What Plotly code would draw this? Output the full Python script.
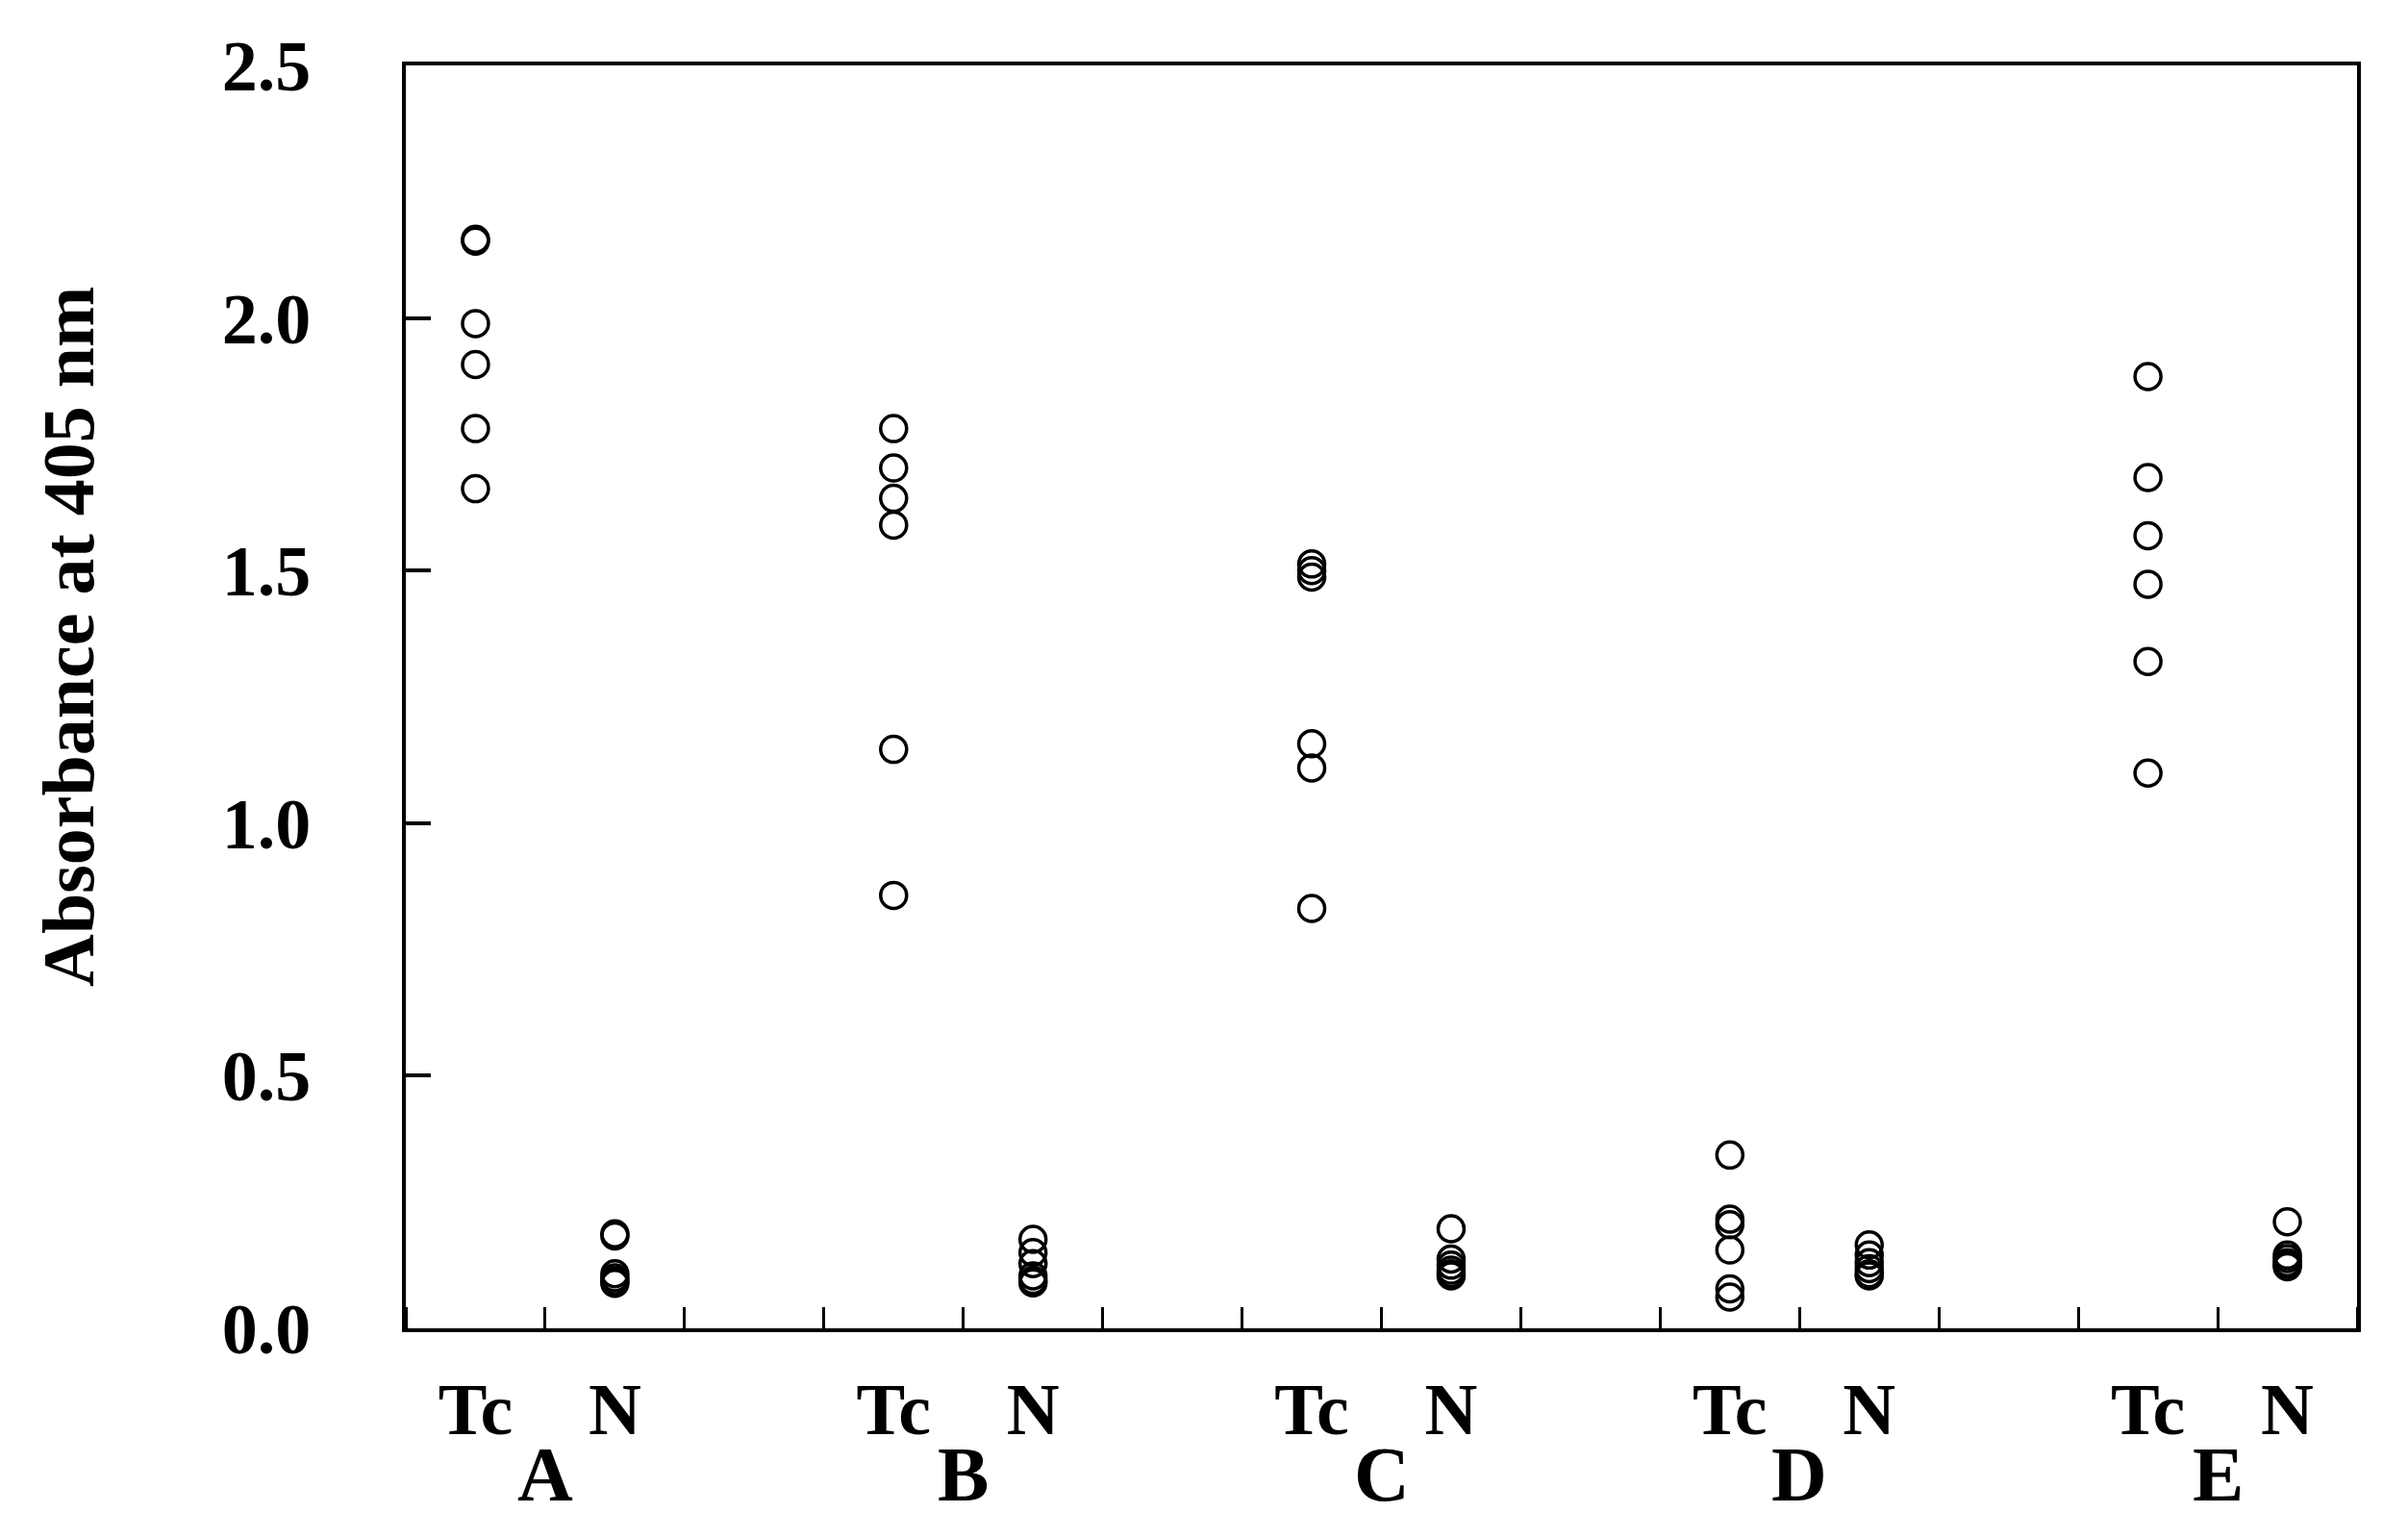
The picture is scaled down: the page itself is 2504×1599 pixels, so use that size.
import plotly.graph_objects as go

# ---- data ----
groups = ["A", "B", "C", "D", "E"]
pair_labels = ["Tc", "N"]

tc_A = [2.156, 2.152, 1.989, 1.908, 1.781, 1.662]
n_A = [0.187, 0.183, 0.108, 0.100, 0.094, 0.089]
tc_B = [1.781, 1.703, 1.643, 1.590, 1.146, 0.857]
n_B = [0.176, 0.150, 0.128, 0.104, 0.095, 0.090]
tc_C = [1.513, 1.500, 1.487, 1.157, 1.109, 0.831]
n_C = [0.197, 0.137, 0.125, 0.115, 0.108, 0.104]
tc_D = [0.343, 0.216, 0.205, 0.155, 0.078, 0.062]
n_D = [0.165, 0.145, 0.130, 0.118, 0.108, 0.104]
tc_E = [1.884, 1.684, 1.569, 1.473, 1.320, 1.099]
n_E = [0.211, 0.145, 0.138, 0.130, 0.125, 0.122]

tc_values = [tc_A, tc_B, tc_C, tc_D, tc_E]
n_values = [n_A, n_B, n_C, n_D, n_E]

y_ticks = [0.0, 0.5, 1.0, 1.5, 2.0, 2.5]
y_title = "Absorbance at 405 nm"

# ---- layout of the category slots: Tc, N, gap for each group ----
SLOTS_PER_GROUP = 3
n_slots = SLOTS_PER_GROUP * len(groups) - 1

FONT = "Liberation Serif, Times New Roman, serif"
BLACK = "#000000"

xs, ys = [], []
tickvals, ticktext = [], []
for gi, g in enumerate(groups):
    base = gi * SLOTS_PER_GROUP
    for k, (lab, vals) in enumerate(zip(pair_labels, [tc_values[gi], n_values[gi]])):
        pos = base + k + 0.5
        xs += [pos] * len(vals)
        ys += vals
        tickvals.append(pos)
        ticktext.append(lab)

fig = go.Figure()
fig.add_trace(go.Scatter(
    x=xs, y=ys, mode="markers",
    marker=dict(symbol="circle-open", size=27, color=BLACK,
                line=dict(width=3.5, color=BLACK)),
    showlegend=False, hoverinfo="y",
))

# group letters centred under each Tc/N pair
for gi, g in enumerate(groups):
    fig.add_annotation(
        x=gi * SLOTS_PER_GROUP + 1, y=0, xref="x", yref="paper",
        yshift=-106, yanchor="top", xanchor="center", showarrow=False,
        text=g, font=dict(family=FONT, size=80, color=BLACK, weight="bold"),
    )

# y-axis title
fig.add_annotation(
    x=-0.173, y=0.5476, xref="paper", yref="paper",
    xanchor="center", yanchor="middle", showarrow=False, textangle=-90,
    text=y_title, font=dict(family=FONT, size=76, color=BLACK, weight="bold"),
)

fig.update_layout(
    width=2504, height=1599,
    margin=dict(l=414, r=61, t=60, b=226),
    paper_bgcolor="white", plot_bgcolor="white",
    font=dict(family=FONT, color=BLACK),
    xaxis=dict(
        range=[0, n_slots], showgrid=False, zeroline=False,
        showline=True, linewidth=4, linecolor=BLACK, mirror=True,
        tickvals=tickvals, ticktext=ticktext, ticks="",
        ticklabelstandoff=15,
        tickfont=dict(family=FONT, size=76, color=BLACK, weight="bold"),
        minor=dict(dtick=1, tick0=0, ticks="inside", ticklen=22,
                   tickwidth=3, tickcolor=BLACK, showgrid=False),
    ),
    yaxis=dict(
        range=[0, 2.5], showgrid=False, zeroline=False,
        showline=True, linewidth=4, linecolor=BLACK, mirror=True,
        tickvals=y_ticks, tickformat=".1f",
        ticks="inside", ticklen=26, tickwidth=4, tickcolor=BLACK,
        ticklabelstandoff=80,
        tickfont=dict(family=FONT, size=74, color=BLACK, weight="bold"),
    ),
)

fig.write_html("out.html")
